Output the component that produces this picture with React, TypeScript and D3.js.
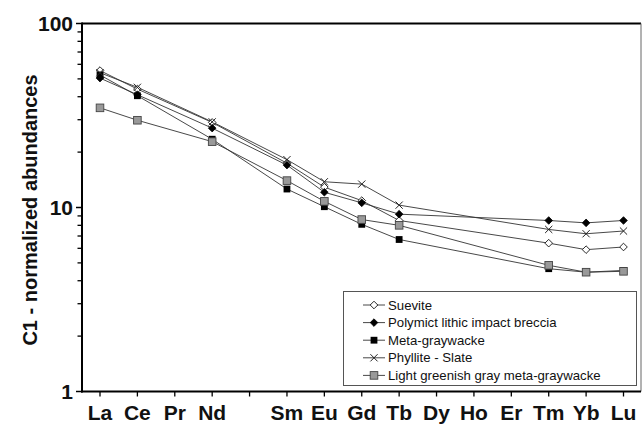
import React from 'react';
import * as d3 from 'd3';

const tickLabels = ['La', 'Ce', 'Pr', 'Nd', '', 'Sm', 'Eu', 'Gd', 'Tb', 'Dy', 'Ho', 'Er', 'Tm', 'Yb', 'Lu'];
const measured = ['La', 'Ce', 'Nd', 'Sm', 'Eu', 'Gd', 'Tb', 'Tm', 'Yb', 'Lu'];
const measuredIdx = [0, 1, 3, 5, 6, 7, 8, 12, 13, 14];

const seriesNames = [
  'Suevite',
  'Polymict lithic impact breccia',
  'Meta-graywacke',
  'Phyllite - Slate',
  'Light greenish gray meta-graywacke',
];
const suevite = [55.5, 44, 29, 17.4, 12.9, 10.9, 8.5, 6.4, 5.9, 6.1];
const polymict = [50.5, 41, 27, 17.0, 12.1, 10.6, 9.2, 8.5, 8.25, 8.5];
const metaGraywacke = [52.5, 40.5, 23.5, 12.6, 10.1, 8.1, 6.7, 4.65, 4.45, 4.55];
const phyllite = [54, 45, 29.2, 18.2, 13.8, 13.4, 10.3, 7.6, 7.2, 7.45];
const lightGray = [34.8, 29.8, 22.8, 14.0, 10.8, 8.6, 8.0, 4.85, 4.45, 4.5];
const seriesValues = [suevite, polymict, metaGraywacke, phyllite, lightGray];
const markerTypes = ['openDiamond', 'diamond', 'square', 'cross', 'graySquare'];

const yMajor = [1, 10, 100];

const W = 642;
const H = 428;
const left = 82;
const right = 641;
const top = 23.5;
const bottom = 391.5;

const x = d3.scaleLinear().domain([0, 14]).range([100, 623.5]);
const y = d3.scaleLog().domain([1, 100]).range([bottom, top]);

function Marker({ type, cx, cy }: { type: string; cx: number; cy: number }) {
  if (type === 'openDiamond') {
    const r = 3.8;
    return <path d={`M${cx},${cy - r}L${cx + r},${cy}L${cx},${cy + r}L${cx - r},${cy}Z`} fill="#fff" stroke="#111" strokeWidth={0.9} />;
  }
  if (type === 'diamond') {
    const r = 3.8;
    return <path d={`M${cx},${cy - r}L${cx + r},${cy}L${cx},${cy + r}L${cx - r},${cy}Z`} fill="#000" stroke="#000" strokeWidth={0.8} />;
  }
  if (type === 'square') {
    const s = 3.4;
    return <rect x={cx - s} y={cy - s} width={2 * s} height={2 * s} fill="#000" />;
  }
  if (type === 'cross') {
    const r = 3.6;
    return <path d={`M${cx - r},${cy - r}L${cx + r},${cy + r}M${cx - r},${cy + r}L${cx + r},${cy - r}`} stroke="#222" strokeWidth={1} fill="none" />;
  }
  const s = 3.8;
  return <rect x={cx - s} y={cy - s} width={2 * s} height={2 * s} fill="#999" stroke="#444" strokeWidth={0.9} />;
}

export default function App() {
  const line = d3
    .line<number>()
    .x((_, i) => x(measuredIdx[i]))
    .y((d) => y(d));

  const minorTicks: number[] = [];
  for (const dec of [1, 10]) {
    for (let k = 2; k <= 9; k++) minorTicks.push(dec * k);
  }

  const legX = 343.5;
  const legY = 291.5;
  const legW = 293;
  const legH = 94;
  const rowH = 17.6;

  return (
    <svg width={W} height={H} style={{ position: 'absolute', left: 0, top: 0, background: '#fff' }} fontFamily="'Liberation Sans', Arial, sans-serif">
      <rect x={0} y={0} width={W} height={H} fill="#fff" />
      {/* frame */}
      <line x1={left} x2={right} y1={top} y2={top} stroke="#000" strokeWidth={2} />
      <line x1={right} x2={right} y1={top} y2={bottom} stroke="#666" strokeWidth={1} />
      <line x1={left} x2={left} y1={top - 1} y2={bottom + 1} stroke="#000" strokeWidth={2} />
      <line x1={left - 1} x2={right} y1={bottom} y2={bottom} stroke="#000" strokeWidth={2} />

      {/* y ticks */}
      {yMajor.map((v) => (
        <g key={'ym' + v}>
          <line x1={left - 6} x2={left} y1={y(v)} y2={y(v)} stroke="#000" strokeWidth={1.5} />
          <text x={73} y={y(v)} dy="0.36em" textAnchor="end" fontWeight="bold" fontSize={21} fill="#111">
            {v}
          </text>
        </g>
      ))}
      {minorTicks.map((v) => (
        <line key={'yn' + v} x1={left - 4.5} x2={left} y1={y(v)} y2={y(v)} stroke="#000" strokeWidth={1.3} />
      ))}

      {/* x ticks */}
      {tickLabels.map((lab, i) => (
        <g key={'xt' + i}>
          <line x1={x(i)} x2={x(i)} y1={bottom} y2={bottom + 5} stroke="#000" strokeWidth={1.3} />
          <text x={x(i)} y={420} textAnchor="middle" fontWeight="bold" fontSize={21} fill="#111">
            {lab}
          </text>
        </g>
      ))}

      {/* y axis title */}
      <text
        transform={`translate(37,210) rotate(-90)`}
        textAnchor="middle"
        fontWeight="bold"
        fontSize={20}
        fill="#111"
      >
        C1 - normalized abundances
      </text>

      {/* series lines */}
      {seriesValues.map((vals, si) => (
        <path key={'l' + si} d={line(vals) || ''} fill="none" stroke="#333" strokeWidth={0.9} />
      ))}
      {/* markers */}
      {seriesValues.map((vals, si) => (
        <g key={'m' + si}>
          {vals.map((v, i) => (
            <Marker key={i} type={markerTypes[si]} cx={x(measuredIdx[i])} cy={y(v)} />
          ))}
        </g>
      ))}

      {/* legend */}
      <rect x={legX} y={legY} width={legW} height={legH} fill="#fff" stroke="#555" strokeWidth={1} />
      {seriesNames.map((name, i) => {
        const cy = legY + 13.5 + i * rowH;
        return (
          <g key={'lg' + i}>
            <line x1={363} x2={385} y1={cy} y2={cy} stroke="#333" strokeWidth={0.9} />
            <Marker type={markerTypes[i]} cx={374} cy={cy} />
            <text x={388} y={cy} dy="0.35em" fontSize={13.2} fill="#111">
              {name}
            </text>
          </g>
        );
      })}
    </svg>
  );
}
